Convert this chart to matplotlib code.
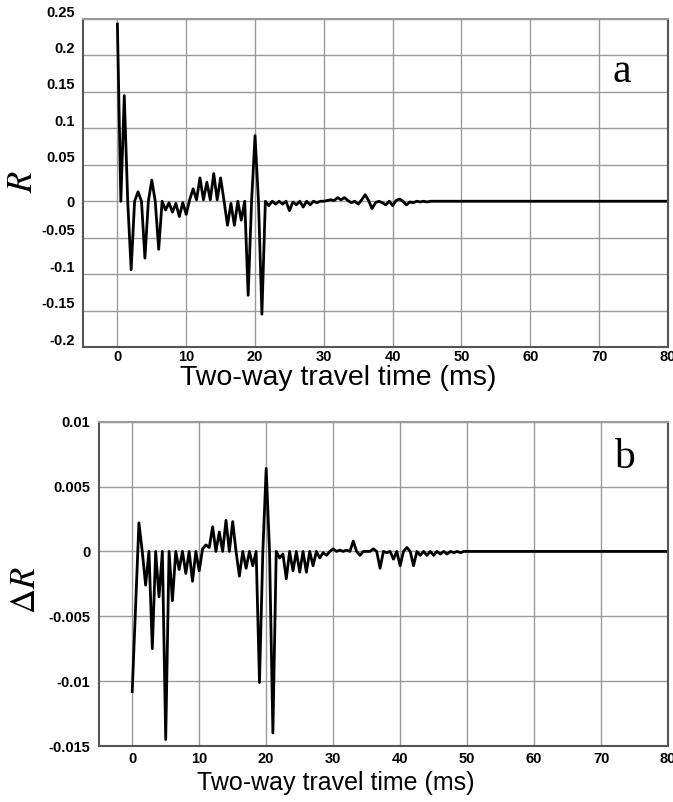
"""Reflection coefficient R and its change dR against two-way travel time."""

import numpy as np
import matplotlib
matplotlib.use('Agg')
from matplotlib import pyplot as plt
from matplotlib import transforms


# Sample interval of the traces (ms); samples run from 0 to 50 ms,
# after that both traces are flat until 80 ms.
SAMPLE_MS = 0.5
END_MS = 80

# Panel a: reflection coefficient R, one value every 0.5 ms from 0 ms.
r_values = [
    0.243, 0, 0.145, 0, -0.094, 0, 0.013, 0, -0.078, 0,        # 0 - 4.5
    0.029, 0, -0.066, 0, -0.012, -0.002, -0.015, -0.003, -0.021, -0.002,  # 5 - 9.5
    -0.018, 0.002, 0.017, 0.002, 0.032, 0.002, 0.026, 0.002, 0.038, 0.002,  # 10 - 14.5
    0.032, 0, -0.033, -0.003, -0.033, 0, -0.026, 0, -0.129, 0,  # 15 - 19.5
    0.090, 0, -0.155, 0, -0.006, 0, -0.004, 0, -0.004, 0,       # 20 - 24.5
    -0.013, -0.001, -0.005, 0, -0.008, 0, -0.005, 0, -0.002, 0,  # 25 - 29.5
    0, 0.001, 0.002, 0.001, 0.005, 0.002, 0.005, 0.001, -0.002, 0,  # 30 - 34.5
    -0.004, 0.002, 0.009, 0.001, -0.010, -0.002, 0, -0.002, -0.005, 0,  # 35 - 39.5
    -0.006, 0.001, 0.003, 0, -0.005, -0.001, -0.002, 0, -0.001, 0,  # 40 - 44.5
    -0.001, 0, 0, 0, 0, 0, 0, 0, 0, 0,                          # 45 - 49.5
    0,                                                          # 50
]

# Panel b: change in reflection coefficient dR, same sampling.
dr_values = [
    -0.0108, -0.0043, 0.0022, 0, -0.0026, 0, -0.0075, 0, -0.0035, 0,      # 0 - 4.5
    -0.0145, 0, -0.0038, 0, -0.0014, 0, -0.0017, 0, -0.0023, 0,           # 5 - 9.5
    -0.0015, 0.0002, 0.0005, 0.0003, 0.0019, 0, 0.0015, 0, 0.0024, 0,     # 10 - 14.5
    0.0023, 0, -0.0019, 0, -0.0013, 0, -0.0011, 0, -0.0101, 0,            # 15 - 19.5
    0.0064, 0, -0.0140, 0, -0.0005, -0.0002, -0.0021, 0, -0.0015, 0,      # 20 - 24.5
    -0.0016, 0, -0.0016, 0, -0.0011, 0, -0.0005, -0.0001, -0.0003, 0,     # 25 - 29.5
    0.0002, 0, 0.0001, 0, 0.0001, 0, 0.0008, 0, -0.0003, 0,               # 30 - 34.5
    0, 0, 0.0002, 0, -0.0013, 0, -0.0001, 0, -0.0006, 0,                  # 35 - 39.5
    -0.0011, 0, 0.0003, 0, -0.0011, 0, -0.0003, 0, -0.0003, 0,            # 40 - 44.5
    -0.0003, 0, -0.0002, 0, -0.0002, 0, -0.0001, 0, -0.0001, 0,           # 45 - 49.5
    0,                                                                   # 50
]

x_ticks = [0, 10, 20, 30, 40, 50, 60, 70, 80]
r_ticks = [-0.2, -0.15, -0.1, -0.05, 0, 0.05, 0.1, 0.15, 0.2, 0.25]
r_tick_labels = ['-0.2', '-0.15', '-0.1', '-0.05', '0', '0.05', '0.1', '0.15', '0.2', '0.25']
dr_ticks = [-0.015, -0.01, -0.005, 0, 0.005, 0.01]
dr_tick_labels = ['-0.015', '-0.01', '-0.005', '0', '0.005', '0.01']

X_LABEL = 'Two-way travel time (ms)'

GRID_COLOR = '#9a9a9a'
SPINE_COLOR = '#555555'
SANS = 'Liberation Sans'
SERIF = 'Liberation Serif'

W, H = 673, 802


def trace(values):
    """Return (time, value) arrays for a trace, padded flat to END_MS."""
    t = np.arange(len(values)) * SAMPLE_MS
    t = np.append(t, END_MS)
    v = np.append(np.array(values, dtype=float), 0.0)
    return t, v


def style_axes(ax, yticks, ylabels, ylim, xpad):
    ax.set_xlim(-5, 80)
    ax.set_ylim(*ylim)
    ax.set_xticks(x_ticks)
    ax.set_xticklabels([str(x) for x in x_ticks], fontfamily=SANS,
                       fontweight='bold', fontsize=10.5)
    ax.set_yticks(yticks)
    ax.set_yticklabels(ylabels, fontfamily=SANS, fontweight='bold', fontsize=10.5)
    ax.tick_params(length=0, pad=6)
    ax.tick_params(axis='x', pad=xpad)
    ax.grid(True, color=GRID_COLOR, linewidth=1.0)
    ax.set_axisbelow(True)
    for side, spine in ax.spines.items():
        spine.set_color(SPINE_COLOR if side != 'top' else GRID_COLOR)
        spine.set_linewidth(1.5)


def fig_text(fig, x_px, y_px, s, **kw):
    """Put text on the figure at a pixel position measured from the top left."""
    fig.text(x_px / W, 1 - y_px / H, s, ha='center', va='center', **kw)


def _main():
    plt.rcParams['mathtext.fontset'] = 'stix'
    fig = plt.figure(figsize=(W / 100, H / 100), dpi=100)

    # Panel a
    ax_a = fig.add_axes([0.1233, 0.5673, 0.8692, 0.409])
    t, v = trace(r_values)
    ax_a.plot(t, v, color='black', linewidth=2.0)
    style_axes(ax_a, r_ticks, r_tick_labels, (-0.2, 0.25), xpad=2.5)
    ax_a.text(0.921, 0.838, 'a', transform=ax_a.transAxes, fontfamily=SERIF,
              fontsize=30, ha='center', va='center')
    # The y labels of panel a sit a little above their grid lines (not '0').
    shift = transforms.ScaledTranslation(0, 0.08, fig.dpi_scale_trans)
    for lab in ax_a.get_yticklabels():
        if lab.get_text() != '0':
            lab.set_transform(lab.get_transform() + shift)
    fig_text(fig, 338, 378, X_LABEL, fontfamily=SANS, fontsize=20.5)
    fig_text(fig, 22, 182, r'$R$', fontsize=25, rotation=90)

    # Panel b
    ax_b = fig.add_axes([0.1467, 0.0698, 0.846, 0.4044])
    t, v = trace(dr_values)
    ax_b.plot(t, v, color='black', linewidth=2.0)
    style_axes(ax_b, dr_ticks, dr_tick_labels, (-0.015, 0.01), xpad=4)
    ax_b.text(0.923, 0.888, 'b', transform=ax_b.transAxes, fontfamily=SERIF,
              fontsize=30, ha='center', va='center')
    fig_text(fig, 336, 783, X_LABEL, fontfamily=SANS, fontsize=18)
    fig_text(fig, 25, 590, r'$\Delta R$', fontsize=25, rotation=90)

    fig.savefig('out.png', dpi=100)


if __name__ == '__main__':
    _main()
